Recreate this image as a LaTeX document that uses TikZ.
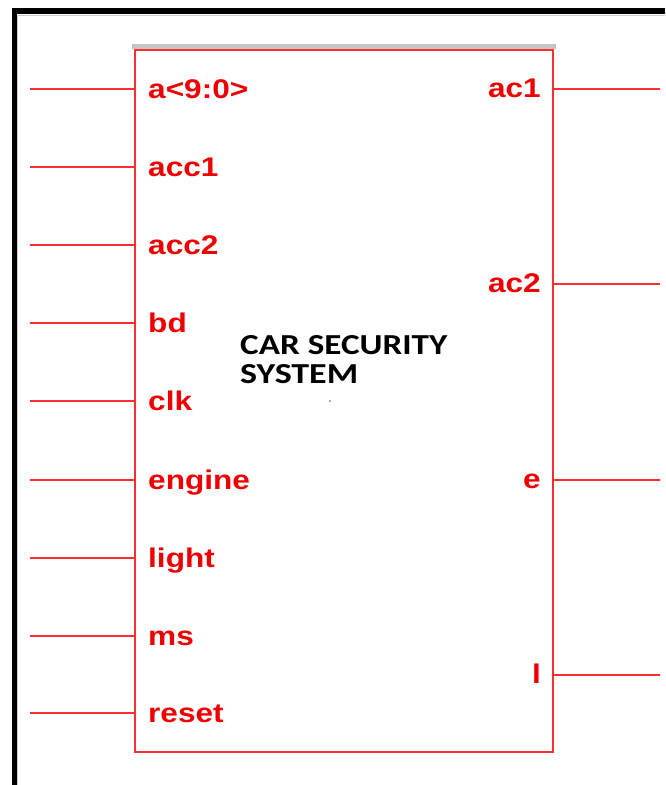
\documentclass[tikz,border=0pt]{standalone}
\usepackage{fontspec}
\setmainfont{Liberation Sans}
\newfontfamily\titlefont{Carlito}
\definecolor{pinred}{RGB}{255,45,45}
\definecolor{labred}{RGB}{238,0,0}
\begin{document}
\begin{tikzpicture}[x=1pt,y=-1pt,
  pin/.style={draw=pinred,line width=1.1pt},
  lab/.style={text=labred,font=\fontsize{27}{27}\selectfont\bfseries,inner sep=0pt},
  ttl/.style={text=black,inner sep=0pt,anchor=south west}]
\useasboundingbox (0,0) rectangle (665,785);
% outer frame
\fill[black] (12,8) rectangle (665,14);
\fill[black] (12,8) rectangle (16.5,785);
\draw[gray!40,line width=0.8pt] (17,15) -- (665,15);
\draw[gray!40,line width=0.8pt] (17,15) -- (17,785);
% gray strip above box
\fill[gray!45] (132,44) rectangle (556,49);
% box
\node[draw=pinred,line width=1.2pt,minimum width=418pt,minimum height=702pt,inner sep=0pt] (box) at (344,401) {};
% left pins
\foreach \nm/\yy/\tx in {pa/89/{a<9:0>},pacc1/167/acc1,pacc2/245/acc2,pbd/323/bd,pclk/401/clk,pengine/480/engine,plight/558/light,pms/636/ms,preset/713/reset}{
  \coordinate (\nm) at (30,\yy);
  \draw[pin] (\nm) -- (box.west |- \nm);
  \node[lab,anchor=base west] (t\nm) at (148,\yy+9) {\scalebox{1.17}[1]{\tx}};
}
% right pins
\foreach \nm/\yy/\tx in {qac1/89/ac1,qac2/284/ac2,qe/480/e,ql/675/l}{
  \coordinate (\nm) at (660,\yy);
  \draw[pin] (box.east |- \nm) -- (\nm);
  \node[lab,anchor=base east] (t\nm) at (541,\yy+8) {\scalebox{1.17}[1]{\tx}};
}
% title
\node[ttl] (title1) at (240,355) {\resizebox{207pt}{19pt}{\titlefont\bfseries CAR SECURITY}};
\node[ttl] (title2) at (240,384) {\resizebox{118pt}{19pt}{\titlefont\bfseries SYSTEM}};
\fill[gray!70!black] (330,401) circle (0.9);
\end{tikzpicture}
\end{document}
